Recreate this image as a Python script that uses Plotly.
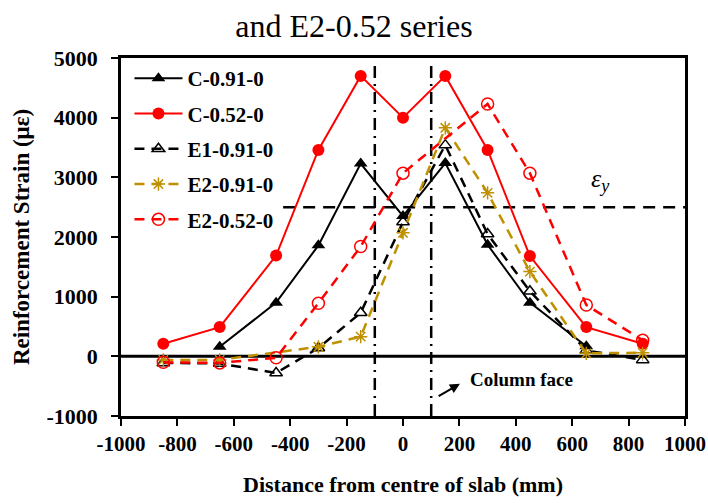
import plotly.graph_objects as go

# ---- data ----
x_c091 = [-650, -450, -300, -150, 0, 150, 300, 450, 650]
y_c091 = [160, 900, 1860, 3230, 2350, 3240, 1870, 900, 170]

x_c052 = [-850, -650, -450, -300, -150, 0, 150, 300, 450, 650, 850]
y_c052 = [210, 490, 1690, 3460, 4700, 4000, 4700, 3460, 1680, 490, 210]

x_e1091 = [-850, -650, -450, -300, -150, 0, 150, 300, 450, 650, 850]
y_e1091 = [-110, -120, -280, 140, 730, 2250, 3540, 2050, 1090, 100, -60]

x_e2091 = [-850, -650, -300, -150, 0, 150, 300, 450, 650, 850]
y_e2091 = [-60, -60, 160, 330, 2070, 3830, 2740, 1420, 50, 60]

x_e2052 = [-850, -650, -450, -300, -150, 0, 300, 450, 650, 850]
y_e2052 = [-100, -110, -25, 890, 1840, 3070, 4230, 3070, 860, 270]

x_ticks = [-1000, -800, -600, -400, -200, 0, 200, 400, 600, 800, 1000]
x_ticktext = ["-1000", "-800", "-600", "-400", "-200", "0", "200", "400", "600", "800", "1000"]
y_ticks = [-1000, 0, 1000, 2000, 3000, 4000, 5000]
y_ticktext = ["-1000", "0", "1000", "2000", "3000", "4000", "5000"]

yield_strain = 2500
column_faces = [-100, 100]

FONT = "Liberation Serif"
RED = "#FF0000"
GOLD = "#BF9000"

fig = go.Figure()

fig.add_trace(go.Scatter(
    x=x_c091, y=y_c091, name="C-0.91-0", mode="lines+markers", legendgroup="a",
    line=dict(color="black", width=2),
    marker=dict(symbol="triangle-up", size=12, color="black")))
fig.add_trace(go.Scatter(
    x=x_c052, y=y_c052, name="C-0.52-0", mode="lines+markers", legendgroup="b",
    line=dict(color=RED, width=2),
    marker=dict(symbol="circle", size=12, color=RED)))
fig.add_trace(go.Scatter(
    x=x_e1091, y=y_e1091, name="E1-0.91-0", mode="lines+markers", legendgroup="c",
    line=dict(color="black", width=2.5, dash="10px,7px"),
    marker=dict(symbol="triangle-up-open", size=11, color="black", line=dict(width=1.5))))
fig.add_trace(go.Scatter(
    x=x_e2091, y=y_e2091, name="E2-0.91-0", mode="lines+markers", legendgroup="d",
    line=dict(color=GOLD, width=2.5, dash="10px,7px"),
    marker=dict(symbol="asterisk-open", size=11, color=GOLD, line=dict(width=1.5, color=GOLD))))
fig.add_trace(go.Scatter(
    x=x_e2052, y=y_e2052, name="E2-0.52-0", mode="lines+markers", legendgroup="e",
    line=dict(color=RED, width=2.5, dash="10px,7px"),
    marker=dict(symbol="circle-open", size=12, color=RED, line=dict(width=1.5))))

# yield line (starts to the right of the legend box, as in the original)
fig.add_shape(type="line", xref="x", yref="y", x0=-425, x1=1000, y0=yield_strain, y1=yield_strain,
              line=dict(color="black", width=2.5, dash="12px,8px"), layer="below")
# column faces
for cf in column_faces:
    fig.add_shape(type="line", xref="x", yref="y", x0=cf, x1=cf, y0=-1000, y1=4920,
                  line=dict(color="black", width=2.5, dash="12px,6px,2px,6px"), layer="below")
# zero line
fig.add_shape(type="line", xref="x", yref="y", x0=-1000, x1=1000, y0=0, y1=0,
              line=dict(color="black", width=3), layer="below")

fig.add_annotation(x=699, y=2950, xref="x", yref="y", text="<i>ε<sub>y</sub></i>",
                   showarrow=False, font=dict(family=FONT, size=26, color="black"))
fig.add_annotation(x=231, y=-394, xref="x", yref="y", text="<b>Column face</b>",
                   xanchor="left", showarrow=False, font=dict(family=FONT, size=19, color="black"))
fig.add_annotation(x=202, y=-460, xref="x", yref="y", ax=121, ay=-680, axref="x", ayref="y",
                   text="", showarrow=True, arrowhead=2, arrowsize=1, arrowwidth=2, arrowcolor="black")

fig.update_layout(
    width=708, height=503,
    margin=dict(l=121, r=23, t=58, b=87, autoexpand=False),
    paper_bgcolor="white", plot_bgcolor="white",
    font=dict(family=FONT, color="black"),
    title=dict(text="and E2-0.52 series", x=0.5, xref="container", xanchor="center",
               y=0.948, yref="container", yanchor="middle",
               font=dict(family=FONT, size=32, color="black")),
    legend=dict(x=0.015, y=1.0, xanchor="left", yanchor="top", bgcolor="rgba(0,0,0,0)",
                font=dict(family=FONT, size=21, color="black", weight="bold"),
                tracegroupgap=5, itemwidth=48),
    showlegend=True,
)
fig.update_xaxes(range=[-1000, 1000], tickvals=x_ticks, ticktext=x_ticktext, automargin=False,
                 showgrid=False, zeroline=False, showline=True, linecolor="black", linewidth=2.5,
                 mirror=True, ticks="outside", ticklen=7, tickwidth=2, tickcolor="black",
                 tickfont=dict(family=FONT, size=21, color="black", weight="bold"),
                 title=dict(text="<b>Distance from centre of slab (mm)</b>",
                            font=dict(family=FONT, size=22, color="black"), standoff=22))
fig.update_yaxes(range=[-1000, 5000], tickvals=y_ticks, ticktext=y_ticktext, automargin=False,
                 showgrid=False, zeroline=False, showline=True, linecolor="black", linewidth=2.5,
                 mirror=True, ticks="outside", ticklen=7, tickwidth=2, tickcolor="black",
                 ticklabelstandoff=9,
                 tickfont=dict(family=FONT, size=22, color="black", weight="bold"),
                 title=dict(text="<b>Reinforcement Strain (με)</b>",
                            font=dict(family=FONT, size=23, color="black"), standoff=11))

fig.write_html("out.html", config={"displayModeBar": False},
               post_script="document.body.style.margin='0px';")
